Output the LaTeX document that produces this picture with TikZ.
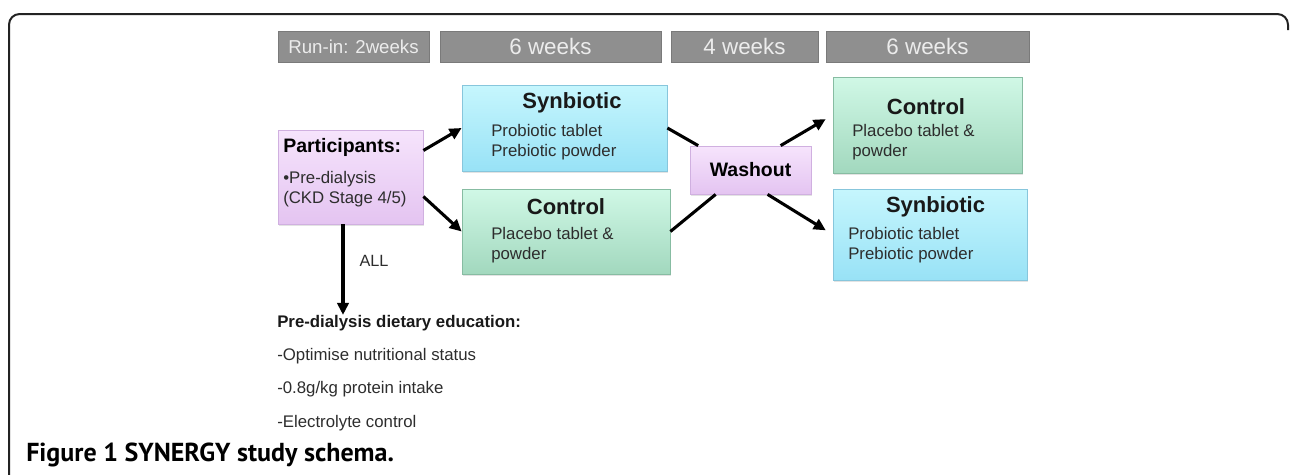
\documentclass[tikz,border=0pt]{standalone}
\usepackage{fontspec}
\setmainfont{Liberation Sans}
\newfontfamily\capfont{PT Sans}
\usetikzlibrary{arrows.meta,shadows}

\definecolor{barGray}{RGB}{143,143,143}
\definecolor{barText}{RGB}{236,236,236}
\definecolor{synTop}{RGB}{198,246,253}
\definecolor{synBot}{RGB}{152,226,246}
\definecolor{synLine}{RGB}{135,198,220}
\definecolor{ctlTop}{RGB}{208,248,230}
\definecolor{ctlBot}{RGB}{162,216,190}
\definecolor{ctlLine}{RGB}{135,188,162}
\definecolor{lavTop}{RGB}{246,228,252}
\definecolor{lavBot}{RGB}{228,196,241}
\definecolor{lavLine}{RGB}{208,176,224}
\definecolor{txtDark}{RGB}{45,45,45}
\definecolor{frameGray}{RGB}{35,35,35}

\tikzset{
  bar/.style={fill=barGray, draw=barGray!85!black, line width=0.4pt,
    minimum height=23.25pt, inner sep=0pt, text=barText},
  box/.style={draw=#1Line, top color=#1Top, bottom color=#1Bot, line width=0.6pt,
    inner sep=0pt, drop shadow={opacity=0.22, shadow xshift=1pt, shadow yshift=-1.5pt}},
  ttl/.style={font=\bfseries\fontsize{16.5}{18}\selectfont, text=black!90},
  body/.style={anchor=west, align=left, inner sep=0pt, text=txtDark,
    font=\fontsize{12.6}{15}\selectfont},
  arr/.style={line width=2.3pt, -{Triangle[length=9pt,width=8.5pt]}},
  lnk/.style={line width=2.3pt},
}

\begin{document}
\begin{tikzpicture}[x=0.75pt,y=0.75pt,yscale=-1,xscale=1]
\useasboundingbox (0,0) rectangle (1290,475);

%Frame
\draw [frameGray, line width=1.5pt, rounded corners=8pt] (9,480) -- (9,14) -- (1288,14) -- (1288,30);

%Header bars
\draw (353.5,46.5) node [bar, minimum width=113.25pt, font=\fontsize{14}{16}\selectfont] (hdrA) {Run-in: 2weeks};
\draw (550.5,46.5) node [bar, minimum width=165.75pt, font=\fontsize{16.8}{18}\selectfont] (hdrB) {6 weeks};
\draw (744.5,46.5) node [bar, minimum width=110.25pt, font=\fontsize{16.8}{18}\selectfont] (hdrC) {4 weeks};
\draw (927.5,46.5) node [bar, minimum width=152.25pt, font=\fontsize{16.8}{18}\selectfont] (hdrD) {6 weeks};

%Boxes
\draw (350.5,177) node [box=lav, minimum width=108.75pt, minimum height=70.5pt] (part) {};
\draw (564.5,128) node [box=syn, minimum width=153.75pt, minimum height=64.5pt] (synA) {};
\draw (566,231.5) node [box=ctl, minimum width=156pt, minimum height=63.75pt] (ctlA) {};
\draw (750.5,170) node [box=lav, minimum width=90.75pt, minimum height=36pt,
  font=\bfseries\fontsize{14.6}{16}\selectfont] (wash) {Washout};
\draw (927.5,125) node [box=ctl, minimum width=141.75pt, minimum height=72pt] (ctlB) {};
\draw (930,234.5) node [box=syn, minimum width=145.5pt, minimum height=68.25pt] (synB) {};

% Text Node
\draw (283,147) node [anchor=west, inner sep=0pt, font=\bfseries\fontsize{14.6}{16}\selectfont] (partT) {Participants:};
\draw (283,189.5) node [body] (partB) {\textbullet Pre-dialysis\\(CKD Stage 4/5)};
\draw (572,103) node [ttl] (synAT) {Synbiotic};
\draw (491,142) node [body] (synAB) {Probiotic tablet\\Prebiotic powder};
\draw (566,207) node [ttl] (ctlAT) {Control};
\draw (491,245.5) node [body] (ctlAB) {Placebo tablet \&\\powder};
\draw (926,107) node [ttl] (ctlBT) {Control};
\draw (852,142) node [body] (ctlBB) {Placebo tablet \&\\powder};
\draw (935.5,207) node [ttl] (synBT) {Synbiotic};
\draw (848,245) node [body] (synBB) {Probiotic tablet\\Prebiotic powder};

% Text Node
\draw (374,261) node [font=\fontsize{12.2}{14}\selectfont, text=txtDark] (all) {ALL};
\draw (277,323) node [anchor=west, inner sep=0pt, font=\bfseries\fontsize{12.6}{15}\selectfont, text=black!90] (edu) {Pre-dialysis dietary education:};
\draw (277,356) node [body] (eduA) {-Optimise nutritional status};
\draw (277,389.5) node [body] (eduB) {-0.8g/kg protein intake};
\draw (277,423.5) node [body] (eduC) {-Electrolyte control};

% Caption
\draw (26,455) node [anchor=west, inner sep=0pt, font=\capfont\bfseries\fontsize{19.5}{22}\selectfont] (cap) {Figure 1 SYNERGY study schema.};

%Connectors
\draw [arr] (part.20) -- (synA.west);
\draw [arr] (part.-15) -- (ctlA.west);
\draw [lnk] (synA.east) -- (wash.155);
\draw [lnk] (ctlA.east) -- (wash.215);
\draw [arr, shorten >=6pt] (wash.39) -- (ctlB.174);
\draw [arr, shorten >=6pt] (wash.-55) -- (synB.west);
\draw [arr] (part.261) -- (part.261 |- edu.north);
\end{tikzpicture}
\end{document}
